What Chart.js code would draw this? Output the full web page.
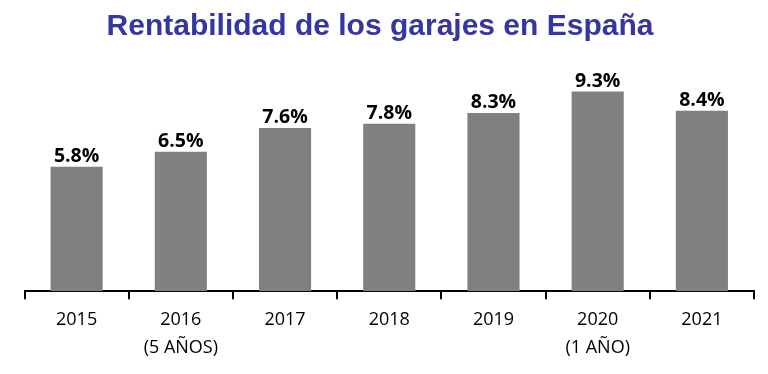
<!DOCTYPE html>
<html>
<head>
<meta charset="utf-8">
<script src="https://cdn.jsdelivr.net/npm/chart.js@4"></script>
<style>
  html, body { margin: 0; padding: 0; background: #fff; }
  #wrap { width: 768px; height: 374px; }
</style>
</head>
<body>
<div id="wrap"><canvas id="garajesChart"></canvas></div>
<script>
// --- DATA ---
const years = [['2015'], ['2016', '(5 AÑOS)'], ['2017'], ['2018'], ['2019'], ['2020', '(1 AÑO)'], ['2021']];
const rentabilidad = [5.8, 6.5, 7.6, 7.8, 8.3, 9.3, 8.4];

// draws the % label on top of every bar
const valueLabels = {
    id: 'valueLabels',
    afterDatasetsDraw(chart) {
        const ctx = chart.ctx;
        const meta = chart.getDatasetMeta(0);
        ctx.save();
        ctx.font = 'bold 19.5px "Open Sans"';
        ctx.fillStyle = '#000';
        ctx.textAlign = 'center';
        ctx.textBaseline = 'alphabetic';
        meta.data.forEach((bar, i) => {
            ctx.fillText(rentabilidad[i].toFixed(1) + '%', bar.x, bar.y - 5);
        });
        ctx.restore();
    }
};

const ctx = document.getElementById('garajesChart').getContext('2d');
new Chart(ctx, {
    type: 'bar',
    data: {
        labels: years,
        datasets: [{ data: rentabilidad, backgroundColor: '#808080', barPercentage: 0.5, categoryPercentage: 1 }]
    },
    options: {
        responsive: true, maintainAspectRatio: false, animation: false,
        layout: { padding: { left: 6, right: 14, top: 0, bottom: 6 } },
        plugins: {
            legend: { display: false },
            tooltip: { enabled: false },
            title: {
                display: true,
                text: 'Rentabilidad de los garajes en España',
                color: '#3535a3',
                font: { family: '"Liberation Sans", Arial, sans-serif', size: 30, weight: 'bold', lineHeight: 1.2 },
                padding: { top: 9, bottom: 31.5 }
            }
        },
        scales: {
            x: {
                grid: { drawOnChartArea: false, drawTicks: true, tickLength: 8, color: '#000', lineWidth: 2 },
                border: { display: true, color: '#000', width: 2 },
                ticks: { color: '#000', padding: 6.5, maxRotation: 0, font: { family: '"Open Sans"', size: 18, lineHeight: 1.55 } }
            },
            y: {
                display: true, min: 0, max: 10,
                ticks: { display: false },
                grid: { display: false, drawTicks: false },
                border: { display: false },
                afterFit(scale) { scale.width = 18.5; }
            }
        }
    },
    plugins: [valueLabels]
});
</script>
</body>
</html>
